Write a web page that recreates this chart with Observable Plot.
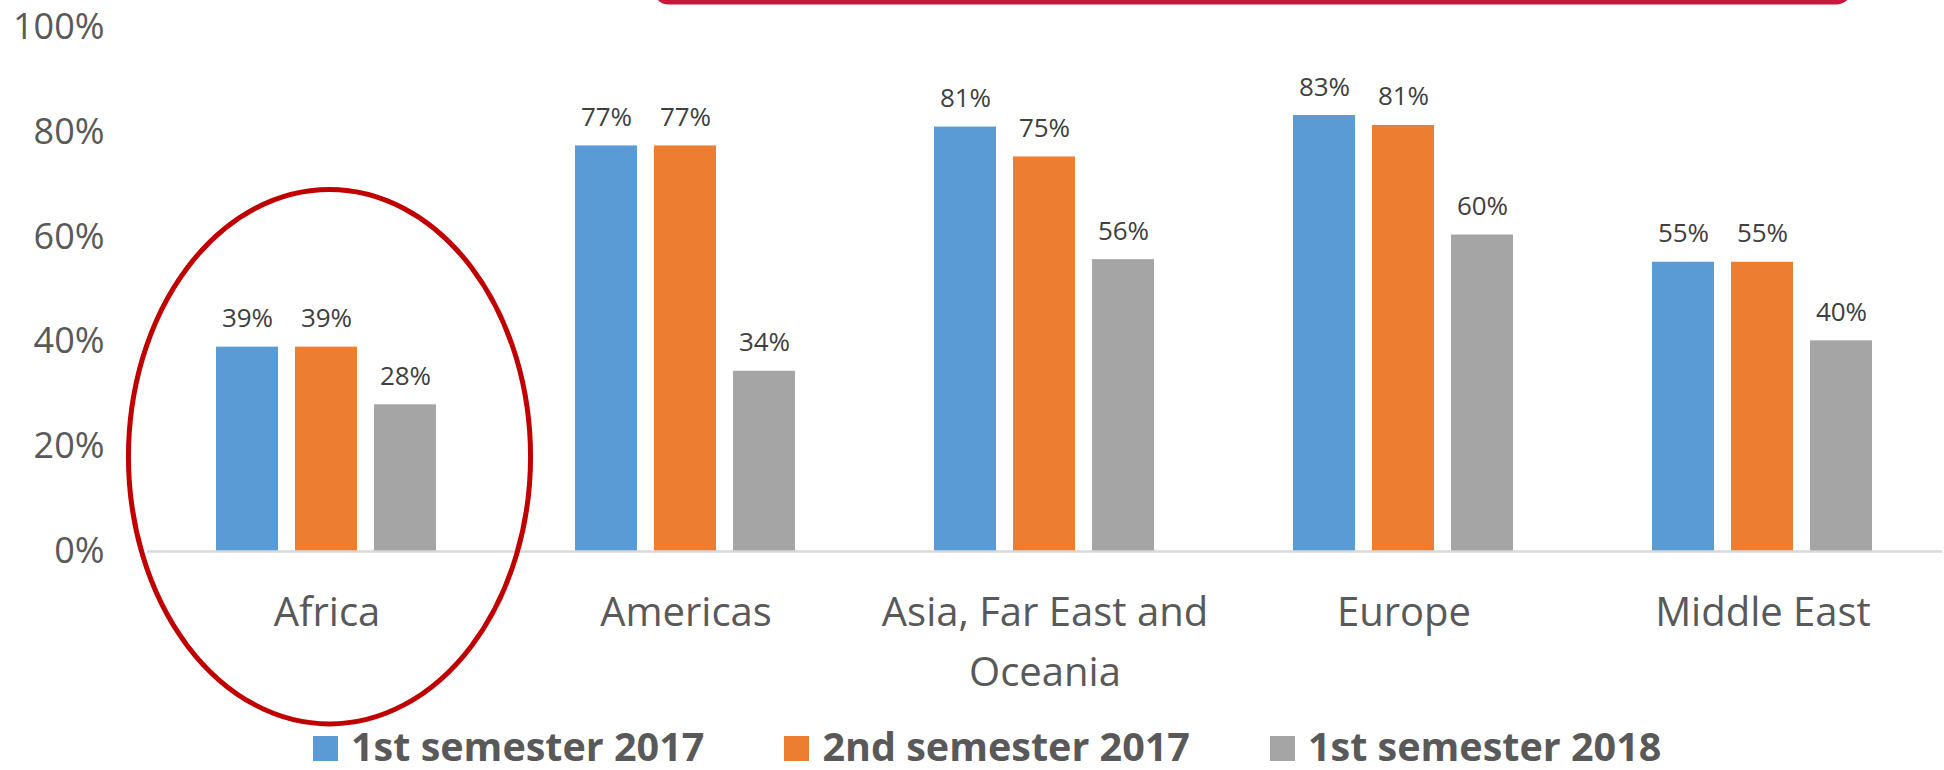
<!DOCTYPE html>
<html><head><meta charset="utf-8">
<script src="https://cdn.jsdelivr.net/npm/d3@7"></script>
<script src="https://cdn.jsdelivr.net/npm/@observablehq/plot@0.6"></script>
<style>
html,body{margin:0;padding:0;background:#fff;}
body{font-family:"Open Sans",sans-serif;width:1944px;height:770px;overflow:hidden;position:relative}
#chart svg{display:block;overflow:visible}
#legend{display:flex;align-items:center;height:46px;padding-left:313px;font-weight:700;font-size:39.5px;line-height:1;color:#595959;white-space:nowrap}
.item{display:flex;align-items:center;margin-right:80px}
.sw{width:25px;height:25px;margin-right:13px;margin-top:2px}
</style></head><body>
<div id="chart"></div>
<div id="legend"></div>
<script>
const regions = ["Africa", "Americas", "Asia, Far East and Oceania", "Europe", "Middle East"];
const regionLabels = ["Africa", "Americas", "Asia, Far East and\nOceania", "Europe", "Middle East"];
const seriesNames = ["1st semester 2017", "2nd semester 2017", "1st semester 2018"];
const seriesColors = ["#5B9BD5", "#ED7D31", "#A5A5A5"];
const sem1_2017 = [0.39, 0.774, 0.81, 0.832, 0.552];
const sem2_2017 = [0.39, 0.774, 0.753, 0.813, 0.552];
const sem1_2018 = [0.28, 0.344, 0.557, 0.604, 0.402];
const yTicks = [0, 0.2, 0.4, 0.6, 0.8, 1];

const seriesValues = [sem1_2017, sem2_2017, sem1_2018];
const data = regions.flatMap((r, i) => seriesValues.map((arr, j) => ({region: r, series: seriesNames[j], value: arr[i]})));
const pct = d3.format(".0%");

const plot = Plot.plot({
  width: 1944, height: 724,
  marginLeft: 145, marginRight: 0, marginTop: 27, marginBottom: 173,
  style: {fontFamily: "Open Sans", background: "transparent", overflow: "visible"},
  fx: {domain: regions, padding: 0, axis: null},
  x: {domain: seriesNames, paddingInner: 0.215, paddingOuter: 0.866, axis: null},
  y: {domain: [0, 1], axis: null},
  color: {domain: seriesNames, range: seriesColors},
  marks: [
    Plot.barY(data, {fx: "region", x: "series", y: "value", fill: "series"}),
    Plot.ruleY([0], {stroke: "#D9D9D9", strokeWidth: 2.5}),
    Plot.text(data, {fx: "region", x: "series", y: "value", text: d => pct(d.value), lineAnchor: "bottom", dy: -20, fontSize: 26, fill: "#404040"}),
    Plot.axisY({ticks: yTicks, tickFormat: ".0%", tickSize: 0, tickPadding: 43, fontSize: 36, color: "#595959", label: null}),
    Plot.axisFx({anchor: "bottom", tickSize: 0, tickPadding: 32, fontSize: 40, lineHeight: 1.5, color: "#595959", label: null,
      tickFormat: d => regionLabels[regions.indexOf(d)]})
  ]
});
document.getElementById("chart").appendChild(plot);

// annotations
const fx = plot.scale("fx"), y = plot.scale("y");
const svg = d3.select(plot);
const cx = fx.apply("Africa") + fx.bandwidth / 2;
const span = y.apply(0) - y.apply(1);
svg.append("ellipse")
  .attr("cx", cx + 3).attr("cy", y.apply(0.18))
  .attr("rx", fx.bandwidth * 0.56).attr("ry", span * 0.51)
  .attr("fill", "none").attr("stroke", "#C00000").attr("stroke-width", 5);
svg.append("rect")
  .attr("x", 655).attr("y", -100).attr("width", 1195).attr("height", 102).attr("rx", 14)
  .attr("fill", "none").attr("stroke", "#C8163C").attr("stroke-width", 5);

// legend
const legend = d3.select("#legend");
seriesNames.forEach((s, i) => {
  const it = legend.append("div").attr("class", "item");
  it.append("div").attr("class", "sw").style("background", seriesColors[i]);
  it.append("span").text(s);
});
</script>
</body></html>
